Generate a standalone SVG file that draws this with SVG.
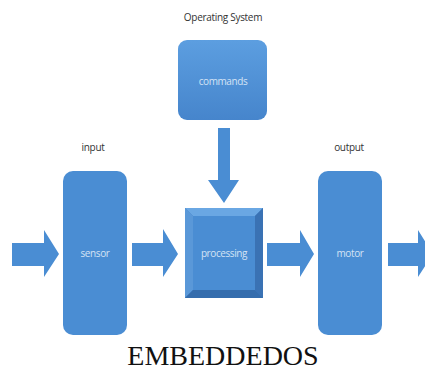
<svg xmlns="http://www.w3.org/2000/svg" width="425" height="373" viewBox="0 0 425 373">
<defs>
<linearGradient id="gCmd" x1="0" y1="0" x2="0" y2="1">
<stop offset="0" stop-color="#5c9ee0"/>
<stop offset="1" stop-color="#4685cc"/>
</linearGradient>
</defs>
<style>
.blk{fill:#4a8dd3}
.arr{fill:#4a8dd3}
.lbl{font-family:"Open Sans","Liberation Sans",sans-serif;font-size:10px;fill:#333333;text-anchor:middle;letter-spacing:-0.3px}
.in{font-family:"Open Sans","Liberation Sans",sans-serif;font-size:10px;fill:#d4e3f5;text-anchor:middle;letter-spacing:-0.4px}
.title{font-family:"Liberation Serif",serif;font-size:28px;fill:#111;text-anchor:middle}
</style>
<rect width="425" height="373" fill="#ffffff"/>
<g id="connectors">
<polygon class="arr" points="218,128 230,128 230,180 239,180 224,203 208,180 218,180"/>
<polygon class="arr" points="12,243 44,243 44,230 59,254 44,277 44,266 12,266"/>
<polygon class="arr" points="132,243 163,243 163,229 178,254 163,277 163,266 132,266"/>
<polygon class="arr" points="267,243 300,243 300,230 314,254 300,277 300,266 267,266"/>
<polygon class="arr" points="388,243 418,243 418,230 433,254 418,277 418,266 388,266"/>
</g>
<g id="commands">
<text class="lbl" x="223" y="21">Operating System</text>
<rect x="178" y="40" width="89" height="80" rx="9" fill="url(#gCmd)"/>
<text class="in" x="223" y="85">commands</text>
</g>
<g id="sensor">
<text class="lbl" x="93" y="151">input</text>
<rect class="blk" x="63" y="171" width="64" height="164" rx="10"/>
<text class="in" x="95" y="257">sensor</text>
</g>
<g id="processing">
<rect x="185" y="208" width="78" height="90" fill="#3f7ec4"/>
<polygon points="185,208 263,208 255,216 193,216" fill="#6aa7e3"/>
<polygon points="185,208 193,216 193,290 185,298" fill="#5a98d8"/>
<polygon points="263,208 263,298 255,290 255,216" fill="#3a72b4"/>
<polygon points="185,298 193,290 255,290 263,298" fill="#356dad"/>
<rect x="193" y="216" width="62" height="74" fill="#4a8dd3"/>
<text class="in" x="224" y="257">processing</text>
</g>
<g id="motor">
<text class="lbl" x="349" y="151">output</text>
<rect class="blk" x="318" y="171" width="64" height="164" rx="10"/>
<text class="in" x="350" y="257">motor</text>
</g>
<text class="title" x="223" y="365">EMBEDDEDOS</text>
</svg>
